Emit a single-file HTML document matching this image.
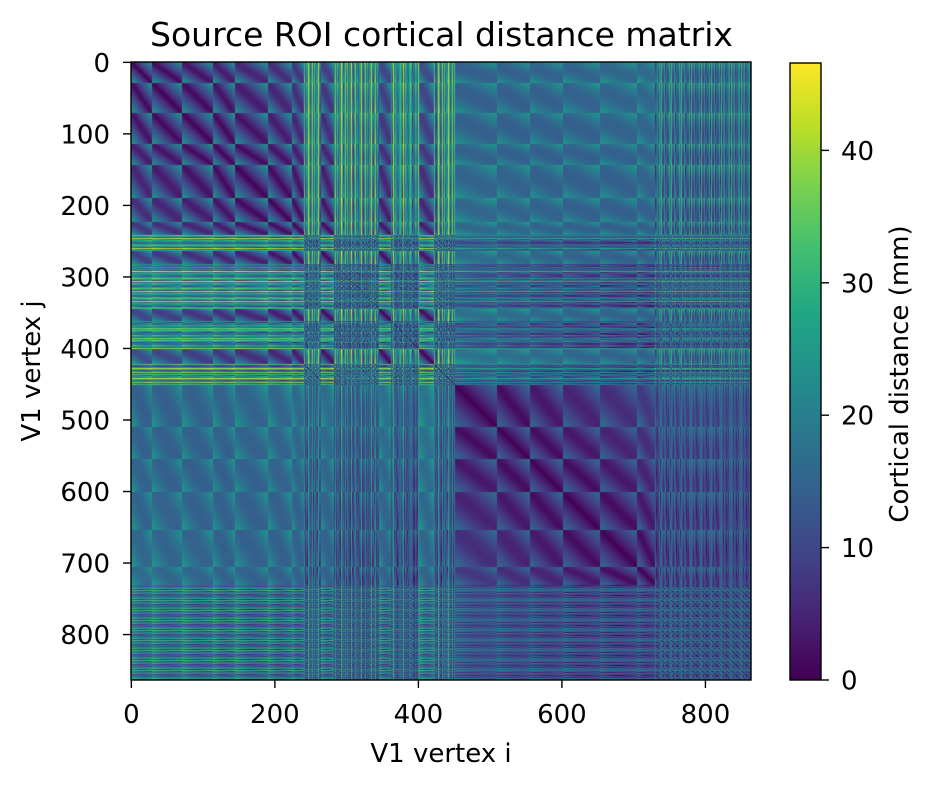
<!DOCTYPE html>
<html><head><meta charset="utf-8">
<style>
html,body{margin:0;padding:0;background:#fff;}
#wrap{position:relative;width:934px;height:789px;overflow:hidden;font-family:"DejaVu Sans","Liberation Sans",sans-serif;}
canvas{position:absolute;}
svg{position:absolute;left:0;top:0;}
text{font-family:"DejaVu Sans","Liberation Sans",sans-serif;fill:#000;}
</style></head>
<body>
<div id="wrap">
<canvas id="hm" width="620" height="618" style="left:131px;top:62px"></canvas>
<canvas id="cb" width="31" height="617" style="left:790px;top:63px"></canvas>
<svg id="ov" width="934" height="789">
<text x="441.5" y="46" font-size="33" text-anchor="middle">Source ROI cortical distance matrix</text>
<rect x="131" y="62" width="620" height="618" fill="none" stroke="#000" stroke-width="1.4"/>
<rect x="790" y="63" width="31" height="617" fill="none" stroke="#000" stroke-width="1.4"/>
<g id="xt"></g>
<g id="yt"></g>
<g id="ct"></g>
<text x="441" y="762" font-size="26" text-anchor="middle">V1 vertex i</text>
<text x="0" y="0" font-size="26" text-anchor="middle" transform="translate(40,371) rotate(-90)">V1 vertex j</text>
<text x="0" y="0" font-size="26" text-anchor="middle" transform="translate(908,374) rotate(-90)">Cortical distance (mm)</text>
</svg>
</div>
<script>
// ---- data (structure of the vertex sheet) ----
const N = 864;
const segLen  = [29,42,43,30,46,33,18, 23,18,63,17,39,20,30, 58,46,46,52,52,25, 134];
const segType = ['R','R','R','R','R','R','R','N','R','N','R','N','R','N','C','C','C','C','C','C','D'];
const noisyZ  = [30,8,22,4,16,40,12,26,6,20,14,34,10,24];
const noisyX  = [2,14,22,6,18,10,24,4,16];
const dZ      = [4,14,8,18,10,22,2,12,30,6,16,9,20,5];
const dX      = [3,12,20,7,16,24,10];
const xTicks  = [0,200,400,600,800];
const yTicks  = [0,100,200,300,400,500,600,700,800];
const cTicks  = [0,10,20,30,40];
const vmax = 46.6;
const viridis = ['#440154','#482475','#414487','#355f8d','#2a788e','#21918c','#22a884','#44bf70','#7ad151','#bddf26','#fde725'];

// ---- build vertex positions ----
const PX=[],PY=[],PZ=[];
let rIdx=0,cIdx=0,nk=0,dk=0;
segLen.forEach((len,s)=>{
  const t=segType[s];
  for(let k=0;k<len;k++){
    const u=len>1?k/(len-1):0;
    if(t==='R'){PX.push(u*24);PY.push(rIdx*1.2);PZ.push(0);}
    else if(t==='C'){PX.push(4+u*16);PY.push(cIdx*1.5);PZ.push(14);}
    else if(t==='N'){PX.push(noisyX[nk%noisyX.length]);PY.push(8);PZ.push(noisyZ[nk%noisyZ.length]);nk++;}
    else {PX.push(dX[dk%dX.length]);PY.push(6);PZ.push(dZ[dk%dZ.length]);dk++;}
  }
  if(t==='R')rIdx++; if(t==='C')cIdx++;
});
function hex(h){return [parseInt(h.substr(1,2),16),parseInt(h.substr(3,2),16),parseInt(h.substr(5,2),16)];}
const vr=viridis.map(hex);
function cmap(v){let f=Math.max(0,Math.min(1,v/vmax))*10;let i=Math.min(9,Math.floor(f));let a=f-i;
  return [0,1,2].map(c=>vr[i][c]+(vr[i+1][c]-vr[i][c])*a);}
// ---- heatmap ----
const hm=document.getElementById('hm'),hc=hm.getContext('2d');
const W=620,H=618,img=hc.createImageData(W,H);
for(let py=0;py<H;py++){const j=Math.min(N-1,Math.floor(py*N/H));
  for(let px=0;px<W;px++){const i=Math.min(N-1,Math.floor(px*N/W));
    const d=Math.sqrt((PX[i]-PX[j])**2+(PY[i]-PY[j])**2+(PZ[i]-PZ[j])**2);
    const c=cmap(d),o=(py*W+px)*4;img.data[o]=c[0];img.data[o+1]=c[1];img.data[o+2]=c[2];img.data[o+3]=255;}}
hc.putImageData(img,0,0);
// ---- colorbar ----
const cb=document.getElementById('cb'),cc=cb.getContext('2d');
for(let y=0;y<617;y++){const c=cmap(vmax*(1-y/616));cc.fillStyle=`rgb(${c[0]|0},${c[1]|0},${c[2]|0})`;cc.fillRect(0,y,31,1);}
// ---- axes ----
const NS='http://www.w3.org/2000/svg';
const xs=v=>131+(v+0.5)*W/N, ys=v=>62+(v+0.5)*H/N, cs=v=>680-v*617/vmax;
function el(p,tag,attrs){const e=document.createElementNS(NS,tag);for(const k in attrs)e.setAttribute(k,attrs[k]);p.appendChild(e);return e;}
const xt=document.getElementById('xt'),yt=document.getElementById('yt'),ct=document.getElementById('ct');
xTicks.forEach(v=>{const x=xs(v);
  const l=el(xt,'line',{x1:x,x2:x,y1:680,y2:688,stroke:'#000','stroke-width':1.4});
  
  
  const t=el(xt,'text',{x:x,y:723,'font-size':26,'text-anchor':'middle'});t.textContent=v;
  
  });
yTicks.forEach(v=>{const y=ys(v);
  const l=el(yt,'line',{x1:123,x2:131,y1:y,y2:y,stroke:'#000','stroke-width':1.4});
  
  
  const t=el(yt,'text',{x:110,y:y+9.5,'font-size':26,'text-anchor':'end'});t.textContent=v;
  
  });
cTicks.forEach(v=>{const y=cs(v);
  const l=el(ct,'line',{x1:821,x2:829,y1:y,y2:y,stroke:'#000','stroke-width':1.4});
  
  
  const t=el(ct,'text',{x:841,y:y+9.5,'font-size':26});t.textContent=v;
  
  });
</script>
</body></html>
